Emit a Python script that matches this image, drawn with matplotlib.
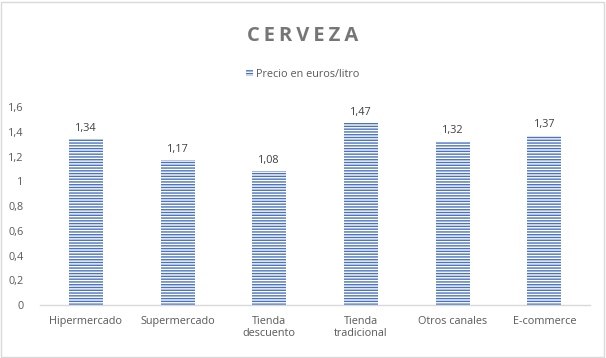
import numpy as np
import matplotlib.pyplot as plt
from matplotlib.patches import Rectangle

# data
categories = ['Hipermercado', 'Supermercado', 'Tienda\ndescuento',
              'Tienda\ntradicional', 'Otros canales', 'E-commerce']
precio = [1.34, 1.17, 1.08, 1.47, 1.32, 1.37]
yticks = [0, 0.2, 0.4, 0.6, 0.8, 1, 1.2, 1.4, 1.6]
ytick_labels = ['0', '0,2', '0,4', '0,6', '0,8', '1', '1,2', '1,4', '1,6']

plt.rcParams['font.family'] = ['Open Sans', 'DejaVu Sans']
plt.rcParams['hatch.linewidth'] = 1.0
grey = '#595959'
blue = '#4a72c0'

fig = plt.figure(figsize=(6.06, 3.58), dpi=100)
ax = fig.add_axes([0.066, 0.148, 0.908, 0.553])

x = np.arange(len(categories))
bars = ax.bar(x, precio, width=0.37, color='white', edgecolor=blue,
              hatch='------', linewidth=0, label='Precio en euros/litro')
for xi, v in zip(x, precio):
    ax.text(xi, v + 0.045, f'{v:.2f}'.replace('.', ','), ha='center',
            va='bottom', fontsize=7.8, color='#404040')

ax.set_xlim(-0.5, len(categories) - 0.5)
ax.set_ylim(0, 1.6)
ax.set_yticks(yticks)
ax.set_yticklabels(ytick_labels, fontsize=7.8, color=grey)
ax.set_xticks(x)
ax.set_xticklabels(categories, fontsize=7.8, color=grey, linespacing=1.1)
ax.tick_params(axis='both', length=0, pad=8)
ax.tick_params(axis='y', pad=12)
for s in ['top', 'right', 'left']:
    ax.spines[s].set_visible(False)
ax.spines['bottom'].set_color('#d9d9d9')
ax.spines['bottom'].set_linewidth(1.0)

# spaced-out title letters
fig.text(0.5, 0.9, '\u2009'.join('CERVEZA'), ha='center', va='center',
         fontsize=14.5, fontweight='bold', color='#767676',
         family=['Open Sans', 'DejaVu Sans'])
leg = fig.legend(handles=[bars], loc='center', bbox_to_anchor=(0.5, 0.793),
                 frameon=False, fontsize=7.8, handlelength=0.6,
                 handleheight=0.6, handletextpad=0.3)
for t in leg.get_texts():
    t.set_color(grey)

fig.patches.append(Rectangle((0.002, 0.003), 0.994, 0.992, transform=fig.transFigure,
                             fill=False, edgecolor='#d9d9d9', linewidth=1))

fig.savefig('out.png', dpi=100)
